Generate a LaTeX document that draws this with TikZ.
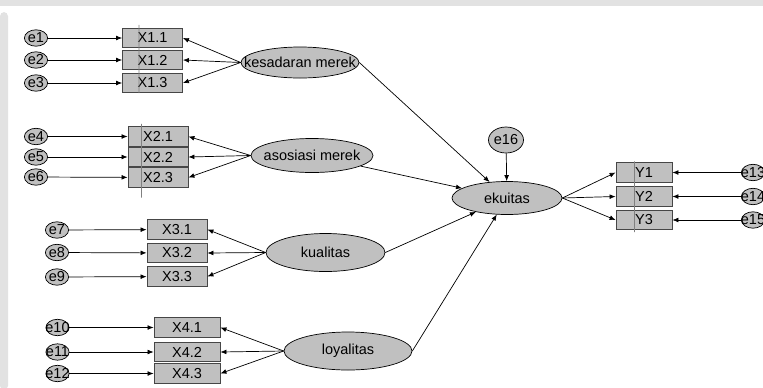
\documentclass[tikz,border=0pt]{standalone}
\usepackage{fontspec}
\setmainfont{Liberation Sans}
\usetikzlibrary{shapes.geometric, arrows.meta}
\definecolor{semfill}{RGB}{192,192,192}
\definecolor{semline}{RGB}{70,70,70}
\definecolor{pageband}{RGB}{226,226,226}
\newcommand{\semfont}{\fontsize{10.3}{12}\selectfont}
\tikzstyle{obsbox} = [rectangle, fill=semfill, draw=semline, line width=0.6pt,
minimum width=15mm, minimum height=4.9mm, inner sep=0pt, font=\semfont]
\tikzstyle{arrow} = [-{Latex[length=1.5mm,width=1.2mm]}, line width=0.5pt, draw=black]
\tikzstyle{crossline} = [draw=gray, line width=0.5pt]
\tikzset{
    errcirc/.style={ellipse, fill=semfill, draw=black, line width=0.5pt,
        minimum width=5.8mm, minimum height=4.1mm, inner sep=0pt,
        label={[font=\semfont, inner sep=0pt]center:#1}},
    latent/.style={ellipse, fill=semfill, draw=black, line width=0.5pt, inner sep=0pt,
        label={[font=\semfont, inner sep=0pt]center:#1}},
}

\begin{document}
\begin{tikzpicture}[x=0.25mm, y=-0.25mm]
    \useasboundingbox (0,0) rectangle (763,387);
    % page edge
    \fill[pageband] (0,0) rectangle (763,6);
    \fill[pageband, rounded corners=3] (0,12) rectangle (8,390);

    % latent variables
    \node (kes) [latent={kesadaran merek}, minimum width=29.5mm, minimum height=7.75mm] at (300,62.5) {};
    \node (aso) [latent={asosiasi merek}, minimum width=30.5mm, minimum height=8.5mm] at (312,155.5) {};
    \node (kua) [latent={kualitas}, minimum width=29.75mm, minimum height=9.5mm] at (325.5,252.5) {};
    \node (loy) [latent={loyalitas}, minimum width=32mm, minimum height=9.5mm] at (348,351) {};
    \node (eku) [latent={ekuitas}, minimum width=27.5mm, minimum height=8.25mm] at (507,198) {};
    \node (e16) [errcirc=e16, minimum width=8.75mm, minimum height=6.5mm] at (506,140) {};

    % indicators
    \node (x11) [obsbox] at (152.5,38) {X1.1};
    \node (x12) [obsbox] at (152.5,60) {X1.2};
    \node (x13) [obsbox] at (152.5,83) {X1.3};
    \node (x21) [obsbox] at (158,136.5) {X2.1};
    \node (x22) [obsbox] at (158,157) {X2.2};
    \node (x23) [obsbox] at (158,177.5) {X2.3};
    \node (x31) [obsbox] at (177,229.5) {X3.1};
    \node (x32) [obsbox] at (177,253) {X3.2};
    \node (x33) [obsbox] at (177,276.5) {X3.3};
    \node (x41) [obsbox, minimum width=16.5mm] at (187,327.5) {X4.1};
    \node (x42) [obsbox, minimum width=16.5mm] at (187,352) {X4.2};
    \node (x43) [obsbox, minimum width=16.5mm] at (187,373.5) {X4.3};
    \node (y1) [obsbox, minimum width=14mm] at (644,172.5) {Y1};
    \node (y2) [obsbox, minimum width=14mm] at (644,196.5) {Y2};
    \node (y3) [obsbox, minimum width=14mm] at (644,220) {Y3};

    % errors
    \node (e1) [errcirc=e1] at (36,38) {};
    \node (e2) [errcirc=e2] at (36,60) {};
    \node (e3) [errcirc=e3] at (36,83) {};
    \node (e4) [errcirc=e4] at (36,136.5) {};
    \node (e5) [errcirc=e5] at (36,157) {};
    \node (e6) [errcirc=e6] at (36,177) {};
    \node (e7) [errcirc=e7] at (57,230) {};
    \node (e8) [errcirc=e8] at (57,252.5) {};
    \node (e9) [errcirc=e9] at (57,277) {};
    \node (e10) [errcirc=e10] at (57.5,327.5) {};
    \node (e11) [errcirc=e11] at (57.5,352) {};
    \node (e12) [errcirc=e12] at (57.5,373.5) {};
    \node (e13) [errcirc=e13] at (753,172.5) {};
    \node (e14) [errcirc=e14] at (753,196.5) {};
    \node (e15) [errcirc=e15] at (753,220) {};

    % error paths
    \draw[arrow] (e1) -- (x11);
    \draw[arrow] (e2) -- (x12);
    \draw[arrow] (e3) -- (x13);
    \draw[arrow] (e4) -- (x21);
    \draw[arrow] (e5) -- (x22);
    \draw[arrow] (e6) -- (x23);
    \draw[arrow] (e7) -- (x31);
    \draw[arrow] (e8) -- (x32);
    \draw[arrow] (e9) -- (x33);
    \draw[arrow] (e10) -- (x41);
    \draw[arrow] (e11) -- (x42);
    \draw[arrow] (e12) -- (x43);
    \draw[arrow] (e13) -- (y1);
    \draw[arrow] (e14) -- (y2);
    \draw[arrow] (e15) -- (y3);
    \draw[arrow] (e16) -- (eku);

    % loadings
    \draw[arrow] (kes.west) -- (x11.east);
    \draw[arrow] (kes.west) -- (x12.east);
    \draw[arrow] (kes.west) -- (x13.east);
    \draw[arrow] (aso.west) -- (x21.east);
    \draw[arrow] (aso.west) -- (x22.east);
    \draw[arrow] (aso.west) -- (x23.east);
    \draw[arrow] (kua.west) -- (x31.east);
    \draw[arrow] (kua.west) -- (x32.east);
    \draw[arrow] (kua.west) -- (x33.east);
    \draw[arrow] (loy.west) -- (x41.east);
    \draw[arrow] (loy.west) -- (x42.east);
    \draw[arrow] (loy.west) -- (x43.east);
    \draw[arrow] (eku.east) -- (y1.west);
    \draw[arrow] (eku.east) -- (y2.west);
    \draw[arrow] (eku.east) -- (y3.west);

    % structural paths
    \draw[arrow] (kes.east) -- (eku);
    \draw[arrow] (aso) -- (eku);
    \draw[arrow] (kua.east) -- (eku);
    \draw[arrow] (loy.east) -- (eku);

    % cursor lines across the boxes
    \draw[crossline] (x11.north west) ++(17,-3) -- ([xshift=4.25mm]x13.south west);
    \draw[crossline] (x21.north west) ++(14,-2.5) -- ([xshift=3.5mm, yshift=-2.5mm]x23.south west);
    \draw[crossline] (y1.north west) ++(19,-1) -- ([xshift=4.75mm, yshift=-0.5mm]y3.south west);
        \end{tikzpicture}
\end{document}
